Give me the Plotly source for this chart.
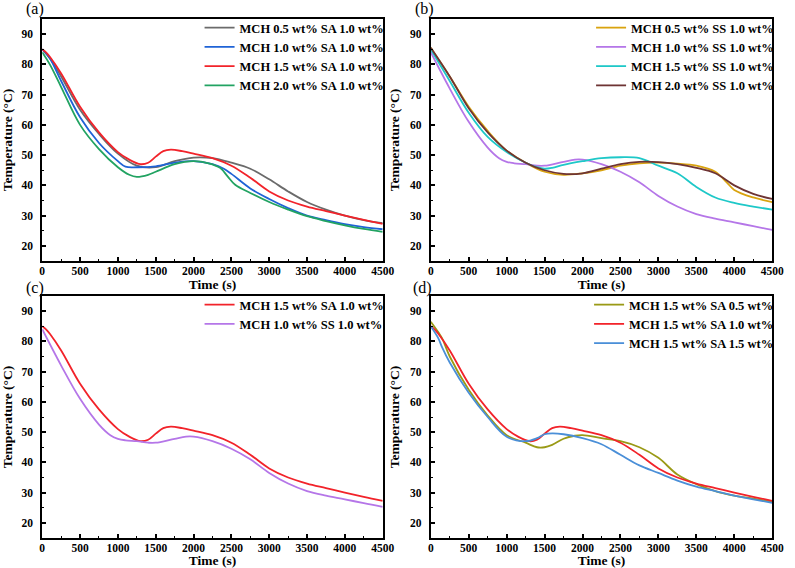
import plotly.graph_objects as go

# ---------------- data ----------------
# Panel (a): MCH x wt% + SA 1.0 wt%
t_a05 = [0, 100, 250, 500, 750, 1000, 1250, 1500, 1750, 2000, 2250, 2500, 2750, 3000, 3250, 3500, 3750, 4000, 4250, 4500]
T_a05 = [85, 82, 76, 65, 57, 50.5, 46.5, 46.0, 48.0, 49.2, 49.0, 47.5, 45.5, 42.0, 38.0, 34.5, 32.0, 30.0, 28.5, 27.5]

t_a10 = [0, 100, 250, 500, 750, 1000, 1100, 1250, 1500, 1750, 2000, 2250, 2400, 2500, 2750, 3000, 3250, 3500, 3750, 4000, 4250, 4500]
T_a10 = [85, 82, 74.5, 62.5, 54, 48, 46.2, 46.0, 46.3, 47.5, 48.0, 47.0, 45.5, 43.8, 39.0, 35.5, 32.5, 30.0, 28.5, 27.2, 26.2, 25.5]

t_a15 = [0, 50, 100, 250, 500, 750, 1000, 1150, 1300, 1400, 1500, 1600, 1700, 1850, 2000, 2250, 2500, 2750, 3000, 3250, 3500, 3750, 4000, 4250, 4500]
T_a15 = [85.0, 84.0, 82.5, 77.0, 66.0, 57.5, 51.0, 48.5, 47.0, 47.5, 49.5, 51.3, 51.8, 51.3, 50.5, 49.0, 46.5, 42.5, 38.0, 35.0, 33.0, 31.5, 30.0, 28.6, 27.3]

t_a20 = [0, 100, 250, 500, 750, 1000, 1150, 1250, 1400, 1500, 1750, 2000, 2200, 2350, 2450, 2550, 2750, 3000, 3250, 3500, 3750, 4000, 4250, 4500]
T_a20 = [84, 80, 72.5, 60, 52, 46, 43.5, 42.8, 43.5, 44.5, 47.0, 48.0, 47.3, 45.8, 43.0, 40.2, 37.5, 34.5, 32.0, 29.8, 28.2, 26.8, 25.6, 24.6]

# Panel (b): MCH x wt% + SS 1.0 wt%
t_b05 = [0, 250, 500, 750, 1000, 1250, 1500, 1750, 2000, 2250, 2500, 2750, 3000, 3250, 3500, 3750, 3900, 4000, 4250, 4500]
T_b05 = [85.5, 76, 66, 58, 51.5, 47.5, 44.5, 43.5, 44.0, 45.0, 46.5, 47.3, 47.5, 47.2, 46.5, 44.5, 41.0, 38.5, 36.0, 34.5]

t_b10 = [0, 250, 500, 750, 900, 1000, 1100, 1250, 1400, 1500, 1750, 1900, 2000, 2250, 2500, 2750, 3000, 3250, 3500, 3750, 4000, 4250, 4500]
T_b10 = [84, 72, 61, 52.5, 49, 47.8, 47.3, 47.0, 46.5, 46.5, 47.8, 48.5, 48.5, 47.0, 44.5, 41.0, 36.5, 33.0, 30.5, 29.0, 27.8, 26.5, 25.3]

t_b15 = [0, 250, 500, 750, 1000, 1250, 1400, 1500, 1600, 1750, 2000, 2250, 2500, 2750, 3000, 3250, 3500, 3750, 4000, 4250, 4500]
T_b15 = [85, 74.5, 64, 56, 51, 47.5, 46.0, 45.5, 45.8, 46.8, 48.0, 49.0, 49.3, 49.0, 46.5, 44.0, 39.5, 36.0, 34.2, 33.0, 32.0]

t_b20 = [0, 250, 500, 750, 1000, 1250, 1500, 1750, 2000, 2250, 2500, 2750, 3000, 3250, 3500, 3750, 4000, 4250, 4500]
T_b20 = [85.5, 76, 65.5, 57.5, 51.5, 47.5, 45.0, 43.8, 44.0, 45.5, 47.0, 47.8, 47.7, 47.0, 45.8, 44.0, 40.0, 37.2, 35.5]

# Panel (d): MCH 1.5 wt% + SA y wt%
t_d05 = [0, 100, 150, 250, 500, 750, 1000, 1250, 1400, 1500, 1600, 1750, 1900, 2000, 2250, 2500, 2750, 3000, 3250, 3500, 3750, 4000, 4250, 4500]
T_d05 = [86.5, 83, 81, 75, 64, 55.5, 49, 46.5, 45.0, 45.0, 45.8, 47.8, 48.8, 49.0, 48.0, 47.0, 45.0, 41.5, 36.0, 32.8, 30.5, 29.0, 28.0, 27.0]

t_d15 = [0, 100, 150, 250, 500, 750, 1000, 1250, 1400, 1500, 1600, 1750, 2000, 2250, 2500, 2750, 3000, 3250, 3500, 3750, 4000, 4250, 4500]
T_d15 = [85, 81, 78, 73, 63, 55, 48.5, 47.0, 48.0, 49.3, 49.6, 49.3, 48.0, 46.0, 42.5, 39.0, 36.5, 34.0, 32.0, 30.5, 29.0, 27.8, 26.6]

panel_labels = ["(a)", "(b)", "(c)", "(d)"]
x_title = "Time (s)"
y_title = "Temperature (°C)"
x_ticks = [0, 500, 1000, 1500, 2000, 2500, 3000, 3500, 4000, 4500]
y_ticks = [20, 30, 40, 50, 60, 70, 80, 90]

# ---------------- figure ----------------
W, H = 795, 568
FONT = "Liberation Serif"

def px_x(p):
    return p / W

def px_y(p):
    return 1 - p / H

dom_x = [[px_x(40), px_x(387)], [px_x(436), px_x(784)], [px_x(40), px_x(387)], [px_x(436), px_x(784)]]
dom_y = [[px_y(261), px_y(19)], [px_y(261), px_y(19)], [px_y(538), px_y(296)], [px_y(538), px_y(296)]]

series = [
    # panel, name, t, T, color
    (1, "MCH 0.5 wt% SA 1.0 wt%", t_a05, T_a05, "#6b6b6b"),
    (1, "MCH 1.0 wt% SA 1.0 wt%", t_a10, T_a10, "#1f63d6"),
    (1, "MCH 1.5 wt% SA 1.0 wt%", t_a15, T_a15, "#f2232a"),
    (1, "MCH 2.0 wt% SA 1.0 wt%", t_a20, T_a20, "#22a362"),
    (2, "MCH 0.5 wt% SS 1.0 wt%", t_b05, T_b05, "#d9a30f"),
    (2, "MCH 1.0 wt% SS 1.0 wt%", t_b10, T_b10, "#b576e8"),
    (2, "MCH 1.5 wt% SS 1.0 wt%", t_b15, T_b15, "#1ec8c8"),
    (2, "MCH 2.0 wt% SS 1.0 wt%", t_b20, T_b20, "#6e3434"),
    (3, "MCH 1.5 wt% SA 1.0 wt%", t_a15, T_a15, "#f2232a"),
    (3, "MCH 1.0 wt% SS 1.0 wt%", t_b10, T_b10, "#b576e8"),
    (4, "MCH 1.5 wt% SA 0.5 wt%", t_d05, T_d05, "#9a9a16"),
    (4, "MCH 1.5 wt% SA 1.0 wt%", t_a15, T_a15, "#f2232a"),
    (4, "MCH 1.5 wt% SA 1.5 wt%", t_d15, T_d15, "#4a8fd8"),
]

fig = go.Figure()
for panel, name, t, T, color in series:
    sfx = "" if panel == 1 else str(panel)
    fig.add_trace(go.Scatter(
        x=t, y=T, name=name, mode="lines",
        line=dict(color=color, width=1.8, shape="spline", smoothing=1.0),
        xaxis="x" + sfx, yaxis="y" + sfx,
        legend="legend" + sfx,
    ))

layout = dict(
    width=W, height=H, autosize=False,
    margin=dict(l=0, r=0, t=0, b=0),
    paper_bgcolor="white", plot_bgcolor="white",
    font=dict(family=FONT, color="black"),
    showlegend=True,
)

tickfont = dict(family=FONT, size=11.5, color="black", weight="bold")
for i in range(4):
    sfx = "" if i == 0 else str(i + 1)
    layout["xaxis" + sfx] = dict(
        domain=dom_x[i], anchor="y" + sfx, range=[0, 4500],
        tickvals=x_ticks, ticks="inside", ticklen=4, tickwidth=1.5, tickcolor="black",
        minor=dict(ticks="inside", ticklen=2, tickwidth=1.2, dtick=250, tick0=0, tickcolor="black"),
        showline=True, mirror=True, linecolor="black", linewidth=1.8,
        showgrid=False, zeroline=False, tickfont=tickfont,
        title=dict(text=x_title, font=dict(family=FONT, size=13.5, weight="bold"), standoff=3),
        ticklabelstandoff=-2,
    )
    layout["yaxis" + sfx] = dict(
        domain=dom_y[i], anchor="x" + sfx, range=[15, 95],
        tickvals=y_ticks, ticks="inside", ticklen=4, tickwidth=1.5, tickcolor="black",
        minor=dict(ticks="inside", ticklen=2, tickwidth=1.2, dtick=5, tick0=0, tickcolor="black"),
        showline=True, mirror=True, linecolor="black", linewidth=1.8,
        showgrid=False, zeroline=False, tickfont=tickfont,
        title=dict(text=y_title, font=dict(family=FONT, size=13.5, weight="bold"), standoff=7),
        ticklabelstandoff=5,
    )
    layout["legend" + sfx] = dict(
        x=dom_x[i][1] + 7 / W, y=dom_y[i][1] + 6 / H,
        xanchor="right", yanchor="top",
        bgcolor="rgba(0,0,0,0)", borderwidth=0,
        font=dict(family=FONT, size=12.5, color="black", weight="bold"),
        tracegroupgap=0, itemwidth=30,
    )

label_pos = [(33, 9), (430, 9), (33, 288), (428, 288)]
anns = []
for lab, (lx, ly) in zip(panel_labels, label_pos):
    anns.append(dict(text=lab, x=px_x(lx), y=px_y(ly), xref="paper", yref="paper",
                     xanchor="center", yanchor="middle", showarrow=False,
                     font=dict(family=FONT, size=16, color="black")))
layout["annotations"] = anns

fig.update_layout(**layout)
# remove the browser's default page margin so the figure fills the window exactly
fig.write_html("out.html", config={"displayModeBar": False},
               post_script="document.body.style.margin='0';")
